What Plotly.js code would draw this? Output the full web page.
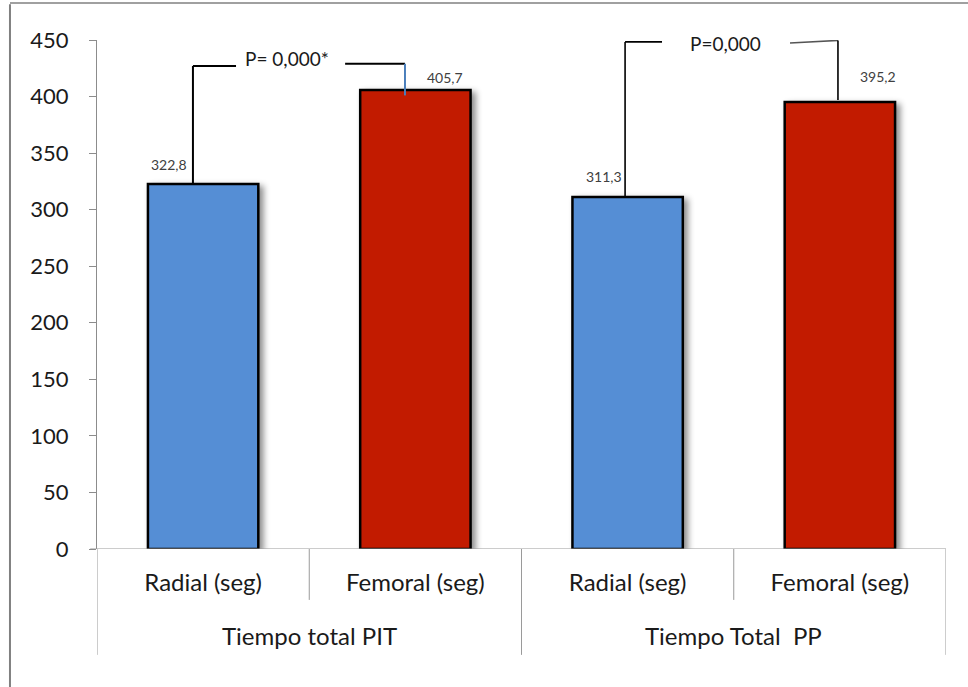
<!DOCTYPE html>
<html>
<head>
<meta charset="utf-8">
<script src="https://cdn.plot.ly/plotly-3.0.1.min.js"></script>
<style>
  html, body { margin: 0; padding: 0; background: #fff; }
  #chart { width: 968px; height: 687px; }
  /* soft drop shadow behind each bar */
  .barlayer .point path { filter: drop-shadow(4px 3px 3px rgba(0,0,0,0.45)); }
</style>
</head>
<body>
<div id="chart"></div>
<script>
// Procedure times (seconds) by access route
const categories = ['Radial (seg)', 'Femoral (seg)', 'Radial (seg)', 'Femoral (seg)'];
const groups = ['Tiempo total PIT', 'Tiempo Total\u00a0 PP'];
const seconds = [322.8, 405.7, 311.3, 395.2];
const barColors = ['#558ED5', '#C21B00', '#558ED5', '#C21B00'];
const pLabels = ['P= 0,000*', 'P=0,000'];
const yTicks = [0, 50, 100, 150, 200, 250, 300, 350, 400, 450];

const FONT = 'Lato, "Open Sans", sans-serif';
const xIdx = categories.map((_, i) => i);
const fmt = v => v.toFixed(1).replace('.', ',');

// value label placement (x shift in category units, y shift in px)
const labelDx = [-0.16, 0.14, -0.11, 0.18];
const labelDy = [19, 13, 20, 25];

const bars = {
  type: 'bar',
  x: xIdx,
  y: seconds,
  width: 0.52,
  marker: { color: barColors, line: { color: '#000', width: 2.5 } },
  hoverinfo: 'none'
};

const annotations = [];
seconds.forEach((v, i) => {
  annotations.push({
    x: i + labelDx[i], y: v, xref: 'x', yref: 'y',
    text: fmt(v), showarrow: false, yshift: labelDy[i],
    font: { family: FONT, size: 14, color: '#404040' }
  });
});
// group labels under the category labels
groups.forEach((g, gi) => {
  annotations.push({
    x: gi * 2 + 0.5, y: -0.169, xref: 'x', yref: 'paper',
    text: g, showarrow: false, yanchor: 'middle',
    font: { family: FONT, size: 24, color: '#1a1a1a' }
  });
});
// significance labels
annotations.push({
  x: 0.395, y: 434, xref: 'x', yref: 'y', text: pLabels[0], showarrow: false,
  font: { family: FONT, size: 19, color: '#1a1a1a' }
});
annotations.push({
  x: 2.46, y: 446.5, xref: 'x', yref: 'y', text: pLabels[1], showarrow: false,
  font: { family: FONT, size: 19, color: '#1a1a1a' }
});

const seg = (x0, y0, x1, y1, color, width) => ({
  type: 'line', xref: 'x', yref: 'y', x0, y0, x1, y1,
  line: { color: color || '#000', width: width || 2 }, layer: 'above'
});

const shapes = [
  // PIT comparison bracket
  seg(-0.048, seconds[0], -0.048, 427),
  seg(-0.048, 427, 0.155, 427),
  seg(0.669, 429, 0.951, 429),
  seg(0.951, 429, 0.951, 401, '#4A7EBB', 2),
  // PP comparison bracket
  seg(1.988, seconds[2], 1.988, 448.3, '#000', 1.6),
  seg(1.988, 448.3, 2.162, 448.3, '#000', 1.6),
  seg(2.765, 447.4, 2.991, 449.6, '#555', 1.6),
  seg(2.991, 449.6, 2.991, 397, '#000', 1.6)
];

// category divider lines below the axis
[-0.5, 1.5, 3.5].forEach(x => shapes.push({
  type: 'line', xref: 'x', yref: 'paper', x0: x, x1: x, y0: 0, y1: -0.208,
  line: { color: '#9a9a9a', width: 1 }
}));
[0.5, 2.5].forEach(x => shapes.push({
  type: 'line', xref: 'x', yref: 'paper', x0: x, x1: x, y0: 0, y1: -0.1,
  line: { color: '#9a9a9a', width: 1 }
}));
// page frame (left and top rules)
shapes.push({
  type: 'line', xref: 'paper', yref: 'paper', x0: -0.1025, x1: -0.1025, y0: 1.07, y1: -0.3,
  line: { color: '#808080', width: 2 }
});
shapes.push({
  type: 'line', xref: 'paper', yref: 'paper', x0: -0.1025, x1: 1.03, y0: 1.0727, y1: 1.0727,
  line: { color: '#808080', width: 1.5 }
});

const layout = {
  width: 968, height: 687,
  margin: { l: 97, r: 22, t: 40, b: 138 },
  paper_bgcolor: '#fff', plot_bgcolor: '#fff',
  showlegend: false,
  xaxis: {
    range: [-0.5, 3.5], tickvals: xIdx, ticktext: categories,
    showgrid: false, zeroline: false, showline: false,
    ticks: 'outside', ticklen: 12, tickcolor: 'rgba(0,0,0,0)',
    tickfont: { family: FONT, size: 24, color: '#1a1a1a' },
    fixedrange: true
  },
  yaxis: {
    range: [0, 450], tickvals: yTicks,
    showgrid: false, zeroline: false,
    showline: true, linecolor: '#8c8c8c', linewidth: 1,
    ticks: 'outside', ticklen: 7, tickcolor: '#8c8c8c',
    ticklabelstandoff: 16,
    tickfont: { family: FONT, size: 22, color: '#1a1a1a' },
    fixedrange: true
  },
  shapes: shapes.concat([{
    // category axis baseline
    type: 'line', xref: 'paper', yref: 'y', x0: -0.008, x1: 1, y0: 0, y1: 0,
    line: { color: '#9a9a9a', width: 1.2 }
  }]),
  annotations
};

Plotly.newPlot('chart', [bars], layout, { staticPlot: true, displayModeBar: false });
</script>
</body>
</html>
